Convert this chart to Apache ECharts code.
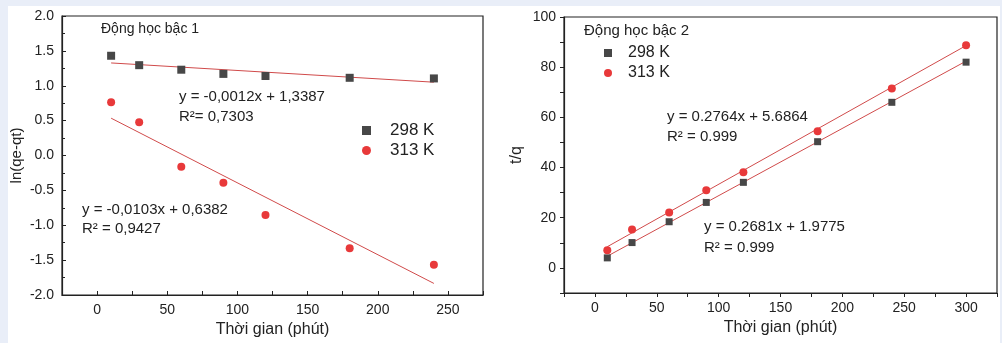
<!DOCTYPE html>
<html>
<head>
<meta charset="utf-8">
<script src="https://cdn.jsdelivr.net/npm/echarts@6/dist/echarts.min.js"></script>
<style>
html, body { margin: 0; padding: 0; background: #e9eef8; }
#panel { position: absolute; left: 8px; top: 6px; width: 992px; height: 337px; background: #fff; }
#chart { position: absolute; left: 0; top: 0; width: 1002px; height: 343px; }
</style>
</head>
<body>
<div id="panel"></div>
<div id="chart"></div>
<script>
// Động học bậc 1
const timeK1 = [10, 30, 60, 90, 120, 180, 240];
const lnK298 = [1.43, 1.295, 1.23, 1.17, 1.14, 1.114, 1.105];
const lnK313 = [0.762, 0.476, -0.162, -0.39, -0.853, -1.329, -1.567];
const fitK1_298 = [[10, 1.327], [240, 1.051]];
const fitK1_313 = [[10, 0.535], [240, -1.834]];

// Động học bậc 2
const timeK2 = [10, 30, 60, 90, 120, 180, 240, 300];
const tqK298 = [4.0, 10.1, 18.4, 26.1, 34.1, 50.3, 66.0, 82.0];
const tqK313 = [7.0, 15.3, 22.1, 31.0, 38.1, 54.5, 71.5, 88.7];
const fitK2_298 = [[10, 4.66], [300, 82.41]];
const fitK2_313 = [[10, 8.45], [300, 88.61]];

const FONT = "'Liberation Sans', Arial, sans-serif";
const INK = '#222';
const GREY = '#474747';
const RED = '#e8393a';
const FIT = '#d04a4a';

const zip = (xs, ys) => xs.map((x, i) => [x, ys[i]]);

const chart = echarts.init(document.getElementById('chart'));

const axisText = { color: INK, fontSize: 14, fontFamily: FONT };

const xAxisBase = (inside) => ({
  type: 'value',
  min: -25,
  interval: 25,
  name: 'Thời gian (phút)',
  nameLocation: 'middle',
  nameGap: 27,
  nameTextStyle: { color: INK, fontSize: 16, fontFamily: FONT },
  axisLine: { onZero: false, lineStyle: { color: INK, width: 1.2 } },
  axisTick: { inside: inside, length: 4, lineStyle: { color: INK } },
  axisLabel: {
    ...axisText,
    margin: 8,
    formatter: v => (v % 50 === 0 && v >= 0 ? String(v) : '')
  },
  splitLine: { show: false }
});

const option = {
  animation: false,
  backgroundColor: 'transparent',
  grid: [
    { left: 62, right: 519, top: 16, bottom: 47, show: true, borderColor: INK, borderWidth: 1.2 },
    { left: 564, right: 5, top: 17, bottom: 50, show: true, borderColor: INK, borderWidth: 1.2 }
  ],
  xAxis: [
    { ...xAxisBase(true), gridIndex: 0, max: 275 },
    { ...xAxisBase(false), gridIndex: 1, max: 325 }
  ],
  yAxis: [
    {
      gridIndex: 0,
      type: 'value',
      min: -2,
      max: 2,
      interval: 0.5,
      name: 'ln(qe-qt)',
      nameLocation: 'middle',
      nameGap: 38,
      nameTextStyle: { color: INK, fontSize: 15, fontFamily: FONT },
      axisLine: { show: true, onZero: false, lineStyle: { color: INK, width: 1.2 } },
      axisTick: { show: true, inside: true, length: 4, lineStyle: { color: INK } },
      minorTick: { show: true, splitNumber: 2, length: 3, lineStyle: { color: INK } },
      axisLabel: { ...axisText, margin: 8, formatter: v => v.toFixed(1) },
      splitLine: { show: false }
    },
    {
      gridIndex: 1,
      type: 'value',
      min: -10,
      max: 100,
      interval: 10,
      name: 't/q',
      nameLocation: 'middle',
      nameGap: 39,
      nameTextStyle: { color: INK, fontSize: 16, fontFamily: FONT },
      axisLine: { show: true, onZero: false, lineStyle: { color: INK, width: 1.2 } },
      axisTick: { show: true, length: 4, lineStyle: { color: INK } },
      axisLabel: { ...axisText, margin: 8, formatter: v => (v % 20 === 0 && v >= 0 ? String(v) : '') },
      splitLine: { show: false }
    }
  ],
  legend: [
    {
      orient: 'vertical',
      left: 357,
      top: 117,
      itemWidth: 9,
      itemHeight: 9,
      itemGap: 3,
      data: [{ name: '298 K', icon: 'rect' }, { name: '313 K', icon: 'circle' }],
      textStyle: { color: INK, fontSize: 17, fontFamily: FONT, padding: [0, 0, 0, 14] }
    },
    {
      orient: 'vertical',
      left: 599,
      top: 40,
      itemWidth: 8,
      itemHeight: 8,
      itemGap: 4,
      data: [{ name: '298 K', icon: 'rect' }, { name: '313 K', icon: 'circle' }],
      textStyle: { color: INK, fontSize: 16, fontFamily: FONT, padding: [0, 0, 0, 11] }
    }
  ],
  series: [
    { name: 'fit1-298', type: 'line', xAxisIndex: 0, yAxisIndex: 0, data: fitK1_298, symbol: 'none', lineStyle: { color: FIT, width: 1 }, z: 1 },
    { name: 'fit1-313', type: 'line', xAxisIndex: 0, yAxisIndex: 0, data: fitK1_313, symbol: 'none', lineStyle: { color: FIT, width: 1 }, z: 1 },
    { name: '298 K', type: 'scatter', xAxisIndex: 0, yAxisIndex: 0, data: zip(timeK1, lnK298), symbol: 'rect', symbolSize: 8, itemStyle: { color: GREY, opacity: 1 } },
    { name: '313 K', type: 'scatter', xAxisIndex: 0, yAxisIndex: 0, data: zip(timeK1, lnK313), symbol: 'circle', symbolSize: 8, itemStyle: { color: RED, opacity: 1 } },
    { name: 'fit2-298', type: 'line', xAxisIndex: 1, yAxisIndex: 1, data: fitK2_298, symbol: 'none', lineStyle: { color: FIT, width: 1 }, z: 1 },
    { name: 'fit2-313', type: 'line', xAxisIndex: 1, yAxisIndex: 1, data: fitK2_313, symbol: 'none', lineStyle: { color: FIT, width: 1 }, z: 1 },
    { name: '298 K', type: 'scatter', xAxisIndex: 1, yAxisIndex: 1, data: zip(timeK2, tqK298), symbol: 'rect', symbolSize: 7, itemStyle: { color: GREY, opacity: 1 } },
    { name: '313 K', type: 'scatter', xAxisIndex: 1, yAxisIndex: 1, data: zip(timeK2, tqK313), symbol: 'circle', symbolSize: 8, itemStyle: { color: RED, opacity: 1 } }
  ],
  graphic: [
    { type: 'text', left: 101, top: 22, style: { text: 'Động học bậc 1', fill: INK, font: '14px ' + FONT } },
    { type: 'text', left: 179, top: 89, style: { text: 'y = -0,0012x + 1,3387', fill: INK, font: '15px ' + FONT } },
    { type: 'text', left: 179, top: 109, style: { text: 'R²= 0,7303', fill: INK, font: '15px ' + FONT } },
    { type: 'text', left: 82, top: 202, style: { text: 'y = -0,0103x + 0,6382', fill: INK, font: '15px ' + FONT } },
    { type: 'text', left: 82, top: 221, style: { text: 'R² = 0,9427', fill: INK, font: '15px ' + FONT } },
    { type: 'text', left: 584, top: 23, style: { text: 'Động học bậc 2', fill: INK, font: '15px ' + FONT } },
    { type: 'text', left: 667, top: 109, style: { text: 'y = 0.2764x + 5.6864', fill: INK, font: '15px ' + FONT } },
    { type: 'text', left: 667, top: 129, style: { text: 'R² = 0.999', fill: INK, font: '15px ' + FONT } },
    { type: 'text', left: 704, top: 219, style: { text: 'y = 0.2681x + 1.9775', fill: INK, font: '15px ' + FONT } },
    { type: 'text', left: 704, top: 240, style: { text: 'R² = 0.999', fill: INK, font: '15px ' + FONT } }
  ]
};

chart.setOption(option);
</script>
</body>
</html>
